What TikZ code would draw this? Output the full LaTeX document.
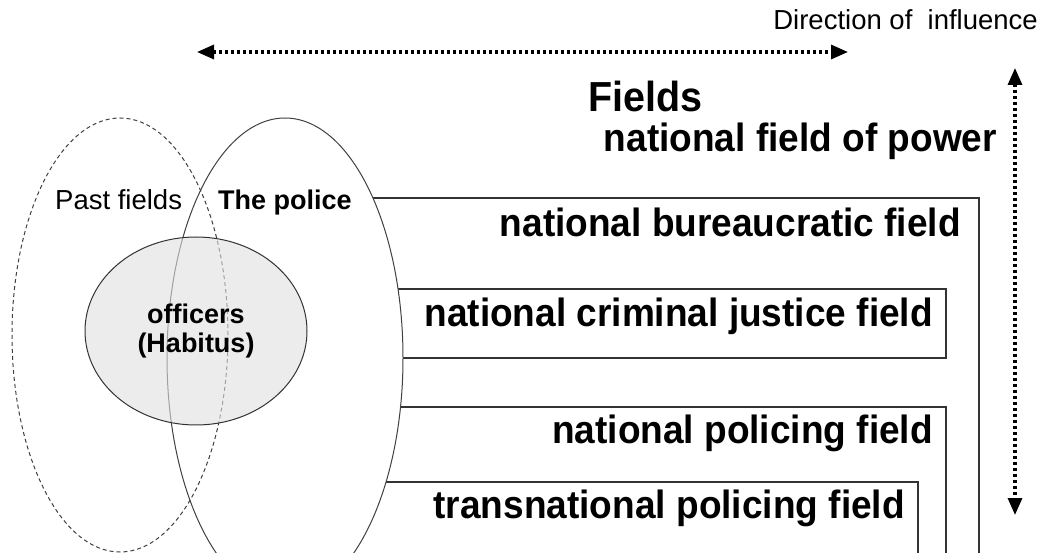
\documentclass[tikz,border=0pt]{standalone}
\usepackage{fontspec}
\setmainfont{Liberation Sans}
\newfontfamily\fieldfont[FakeStretch=0.94]{Liberation Sans}
\usetikzlibrary{shapes.geometric,arrows.meta}
\tikzset{
  fieldname/.style={font=\fieldfont\bfseries\fontsize{39.4}{46}\selectfont, anchor=base east, inner sep=0pt},
  smalltext/.style={font=\fontsize{27.5}{32}\selectfont, inner sep=0pt},
  smallbold/.style={font=\bfseries\fontsize{27}{29}\selectfont, inner sep=0pt},
  fieldbox/.style={draw=black!80, line width=1.3pt},
  influence/.style={line width=3.2pt, dash pattern=on 3.2pt off 2.8pt,
    {Triangle[length=17pt,width=14pt]}-{Triangle[length=17pt,width=14pt]}},
}
\begin{document}
\begin{tikzpicture}[x=1pt,y=-1pt]
\useasboundingbox (0,0) rectangle (1045,553);
\clip (0,0) rectangle (1045,553);
\draw[fieldbox] (300,198) -- (979,198) -- (979,600);
\draw[fieldbox] (300,289) rectangle (946,358);
\draw[fieldbox] (300,407) -- (946,407) -- (946,600);
\draw[fieldbox] (300,482) -- (918,482) -- (918,600);
\node[ellipse, draw=black!75, fill=white, line width=1pt, minimum width=236pt, minimum height=480pt] (police) at (285,358){};
\node[ellipse, draw=black!75, line width=1pt, dash pattern=on 4pt off 3pt, minimum width=216pt, minimum height=434pt] (past) at (120,335){};
\node[ellipse, draw=black!80, line width=1pt, fill=black!12, fill opacity=0.6, text opacity=1, smallbold, align=center, minimum width=222pt, minimum height=188pt] (officers) at (196,331){officers\\(Habitus)};
\node[smalltext, anchor=base west] (pastlabel) at (55,210){Past fields};
\node[smallbold, anchor=base west] (policelabel) at (218,210){The police};
\node[smalltext, anchor=base east] (direction) at (1038,30){Direction of\ \ influence};
\node[font=\fieldfont\bfseries\fontsize{42}{48}\selectfont, anchor=base west, inner sep=0pt] (fields) at (588,112){Fields};
\node[fieldname] (power) at (997,152){national field of power};
\node[fieldname] (bureau) at (961,237){national bureaucratic field};
\node[fieldname] (justice) at (933,327){national criminal justice field};
\node[fieldname] (policing) at (933,443){national policing field};
\node[fieldname] (transnational) at (905,518){transnational policing field};
\coordinate (westend) at (197,52);
\coordinate (eastend) at (848,52);
\coordinate (topend) at (1015,68);
\coordinate (bottomend) at (1015,515);
\draw[influence] (westend) -- (eastend);
\draw[influence] (topend) -- (bottomend);
\end{tikzpicture}
\end{document}
